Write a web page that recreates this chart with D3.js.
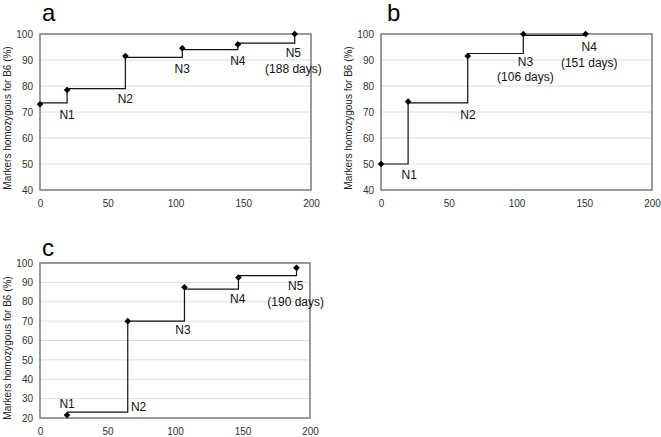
<!DOCTYPE html>
<html>
<head>
<meta charset="utf-8">
<script src="https://cdn.jsdelivr.net/npm/d3@7"></script>
<style>
  html, body { margin: 0; padding: 0; background: #fff; }
  svg { display: block; font-family: "Liberation Sans", Arial, sans-serif; }
</style>
</head>
<body>
<svg id="chart" width="661" height="437"></svg>
<script>
// ---------------- data ----------------
const xTicks = [0, 50, 100, 150, 200];

// Panel a
const aDays   = [0, 20, 63, 105, 146, 188];
const aValues = [73, 78.5, 91.5, 94.5, 96, 100];
const aSteps  = [73.5, 79, 91, 94, 96.5];
const aYTicks = [40, 50, 60, 70, 80, 90, 100];
const aLabels = ["N1", "N2", "N3", "N4", "N5\n(188 days)"];
const aLabelX = [20, 63, 105, 146, 187];
const aLabelY = [68.8, 75, 86.8, 89.6, 92.6];

// Panel b
const bDays   = [0, 20, 64, 105, 151];
const bValues = [50, 74, 91.5, 100, 100];
const bSteps  = [50, 73.5, 92.5, 99.5];
const bYTicks = [40, 50, 60, 70, 80, 90, 100];
const bLabels = ["N1", "N2", "N3\n(106 days)", "N4\n(151 days)"];
const bLabelX = [20.8, 64.2, 106.6, 153.7];
const bLabelY = [45.8, 68.8, 89.4, 94.9];

// Panel c
const cDays   = [20, 65, 107, 147, 190];
const cValues = [21.5, 70, 87.5, 92.5, 97.5];
const cSteps  = [23, 70, 86.5, 93.5];
const cYTicks = [20, 30, 40, 50, 60, 70, 80, 90, 100];
const cLabels = ["N1", "N2", "N3", "N4", "N5\n(190 days)"];
const cLabelX = [20.1, 73, 105.9, 146.5, 189.4];
const cLabelY = [27.4, 25.7, 65.3, 81.6, 88.1];

const yTitle = "Markers homozygous for B6 (%)";

// ---------------- drawing ----------------
const svg = d3.select("#chart");

function drawPanel(o) {
  const x = d3.scaleLinear().domain([0, 200]).range([o.left, o.right]);
  const y = d3.scaleLinear().domain([o.yTicks[0], o.yTicks[o.yTicks.length - 1]]).range([o.bottom, o.top]);
  const g = svg.append("g");

  // gridlines
  g.append("g").selectAll("line").data(o.yTicks.slice(1, -1)).join("line")
    .attr("x1", o.left).attr("x2", o.right)
    .attr("y1", d => y(d)).attr("y2", d => y(d))
    .attr("stroke", "#dcdcdc").attr("stroke-width", 1);

  // frame
  g.append("rect")
    .attr("x", o.left).attr("y", o.top)
    .attr("width", o.right - o.left).attr("height", o.bottom - o.top)
    .attr("fill", "none").attr("stroke", "#7a7a7a").attr("stroke-width", 1.5);

  // y axis tick labels
  const ya = d3.axisLeft(y).tickValues(o.yTicks).tickSize(0).tickPadding(7);
  const yg = g.append("g").attr("transform", `translate(${o.left},0)`).call(ya);
  yg.select(".domain").remove();
  yg.selectAll("text").attr("font-size", 10).attr("fill", "#333")
    .style("font-family", "Liberation Sans, Arial, sans-serif");

  // x axis tick labels
  const xa = d3.axisBottom(x).tickValues(xTicks).tickSize(0).tickPadding(10);
  const xg = g.append("g").attr("transform", `translate(0,${o.bottom})`).call(xa);
  xg.select(".domain").remove();
  xg.selectAll("text").attr("font-size", 10).attr("fill", "#333")
    .style("font-family", "Liberation Sans, Arial, sans-serif");

  // y title
  g.append("text")
    .attr("transform", `translate(${o.titleX},${o.titleY}) rotate(-90)`)
    .attr("text-anchor", "middle")
    .attr("font-size", 10).attr("fill", "#222")
    .text(yTitle);

  // panel letter
  g.append("text")
    .attr("x", o.letterX).attr("y", o.letterY)
    .attr("font-size", 24).attr("fill", "#000")
    .text(o.letter);

  // step line
  const pts = [];
  for (let i = 0; i < o.steps.length; i++) {
    pts.push([o.days[i], o.steps[i]]);
    pts.push([o.days[i + 1], o.steps[i]]);
  }
  pts.push([o.days[o.days.length - 1], o.values[o.values.length - 1]]);
  const line = d3.line().x(d => x(d[0])).y(d => y(d[1]));
  g.append("path").attr("d", line(pts))
    .attr("fill", "none").attr("stroke", "#111").attr("stroke-width", 1.2);

  // markers
  const sym = d3.symbol().type(d3.symbolSquare).size(22);
  g.append("g").selectAll("path").data(o.days.map((d, i) => [d, o.values[i]])).join("path")
    .attr("d", sym)
    .attr("transform", d => `translate(${x(d[0])},${y(d[1])}) rotate(45)`)
    .attr("fill", "#000");

  // labels
  o.labels.forEach((lab, i) => {
    const lines = lab.split("\n");
    const t = g.append("text")
      .attr("x", x(o.labelX[i])).attr("y", y(o.labelY[i]))
      .attr("text-anchor", "middle")
      .attr("font-size", 12).attr("fill", "#111");
    lines.forEach((l, j) => {
      t.append("tspan").attr("x", x(o.labelX[i]))
        .attr("dy", j === 0 ? "0.35em" : "1.3em").text(l);
    });
  });
}

drawPanel({
  left: 40, right: 311, top: 34, bottom: 190,
  yTicks: aYTicks, days: aDays, values: aValues, steps: aSteps,
  labels: aLabels, labelX: aLabelX, labelY: aLabelY,
  letter: "a", letterX: 42, letterY: 21, titleX: 11, titleY: 118
});
drawPanel({
  left: 381, right: 652, top: 34, bottom: 190,
  yTicks: bYTicks, days: bDays, values: bValues, steps: bSteps,
  labels: bLabels, labelX: bLabelX, labelY: bLabelY,
  letter: "b", letterX: 387, letterY: 21, titleX: 352, titleY: 118
});
drawPanel({
  left: 40, right: 310, top: 263, bottom: 418,
  yTicks: cYTicks, days: cDays, values: cValues, steps: cSteps,
  labels: cLabels, labelX: cLabelX, labelY: cLabelY,
  letter: "c", letterX: 42, letterY: 256, titleX: 11, titleY: 348
});
</script>
</body>
</html>
